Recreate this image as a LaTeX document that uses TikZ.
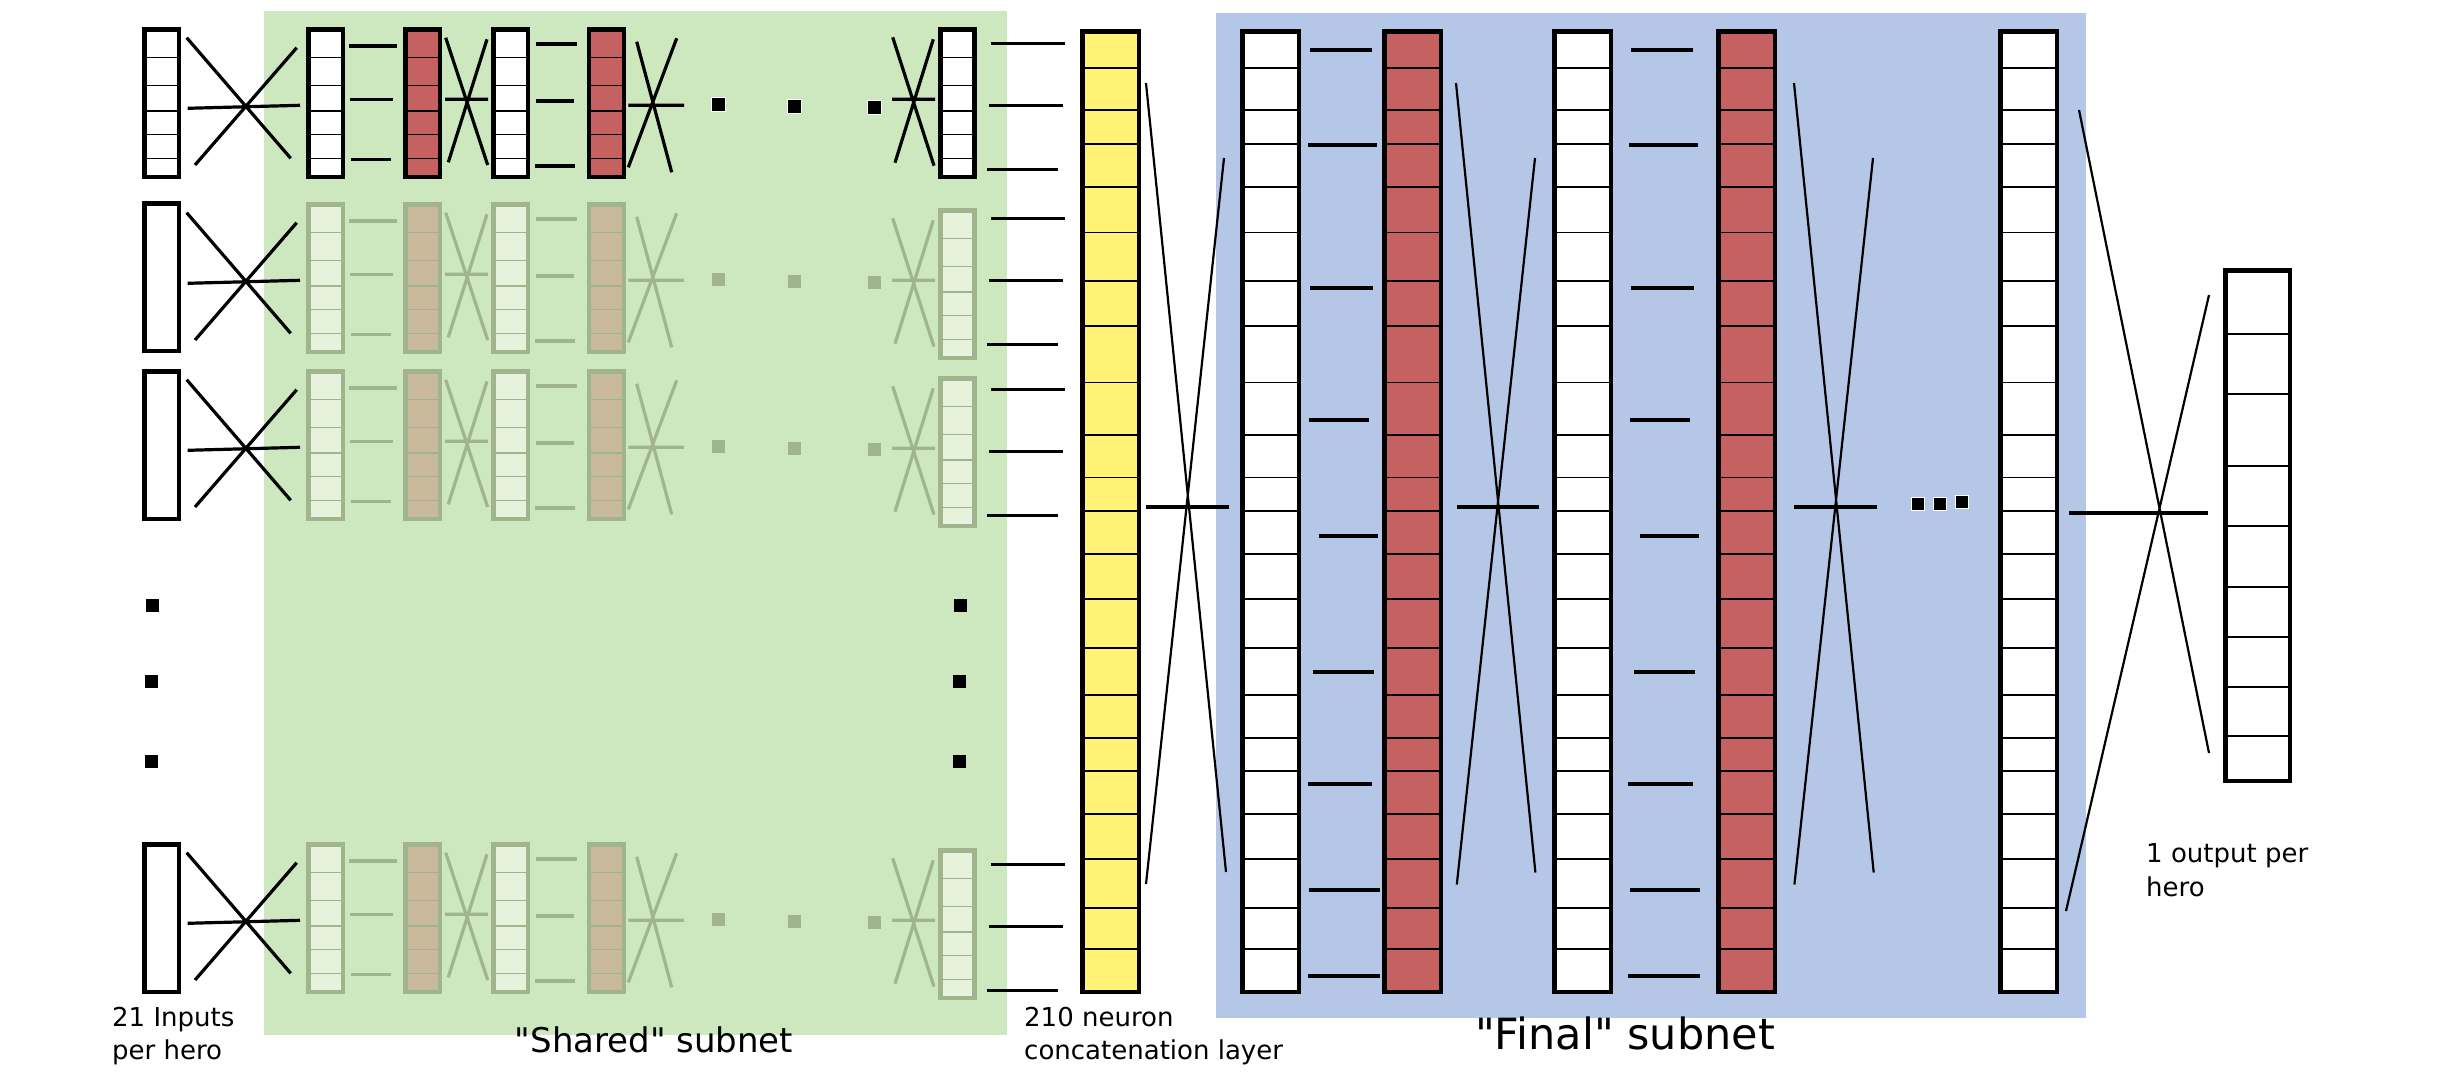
\documentclass[tikz,border=0pt]{standalone}
\usepackage{fontspec}
\setmainfont{DejaVu Sans}
\newfontfamily\plainq{DejaVu Sans}
\definecolor{greenbg}{HTML}{CDE7BF}
\definecolor{bluebg}{HTML}{B4C7E7}
\definecolor{redc}{HTML}{C56261}
\definecolor{yellowc}{HTML}{FFF275}
\definecolor{fadeline}{HTML}{A0B48E}
\definecolor{fadefill}{HTML}{E6F2DC}
\definecolor{fadered}{HTML}{C9BA9B}
\tikzset{
  boxline/.style={line width=4.5pt},
  cellline/.style={line width=1.3pt},
  linkline/.style={line width=3.2pt},
  thinlink/.style={line width=2.2pt},
  lbl/.style={inner sep=0pt, anchor=base west, font=\fontsize{26}{32}\selectfont},
  dotsq/.style={draw=white, line width=1pt},
}
\newcommand{\shbox}[5]{%
  \fill[#5] (#1,#3) rectangle (#2,#3+152);
  \foreach \o in {30.3,58.3,84,107.3,131.3}{\draw[cellline,#4] (#1+2,#3+\o) -- (#2-2,#3+\o);}
  \draw[boxline,#4] (#1+2.25,#3+2.25) rectangle (#2-2.25,#3+149.75);
}
\newcommand{\shrow}[5]{%
 \begin{scope}[shift={(0,#1)}]
   \draw[linkline,black] (186.7,37.7) -- (290.7,158.3) (195,165) -- (296.7,47.7) (187.7,108.3) -- (300,105.3);
   \shbox{306}{345}{27}{#3}{#4}
   \draw[linkline,#3] (349.3,46) -- (396.7,46) (350,99.3) -- (392.7,99.3) (351,159.3) -- (390.7,159.3);
   \shbox{403.3}{442.3}{27}{#3}{#5}
   \draw[linkline,#3] (445.7,37.7) -- (487.7,165) (487,39.3) -- (448.3,162.3) (445,99.3) -- (488,99.3);
   \shbox{491}{530}{27}{#3}{#4}
   \draw[linkline,#3] (536,44) -- (576.7,44) (536,101) -- (574,101) (535,166) -- (575,166);
   \shbox{586.7}{626}{27}{#3}{#5}
   \draw[linkline,#3] (636.7,41.7) -- (671.7,172.3) (676.7,38.3) -- (628.3,167.3) (628.3,105.3) -- (684,105.3);
   \foreach \px/\py in {718.3/104.3, 794.3/106.7, 874.3/107.3}{\fill[#3] (\px-6.5,\py-6.5) rectangle (\px+6.5,\py+6.5);}
 \end{scope}
 \begin{scope}[shift={(0,#2)}]
   \draw[linkline,#3] (892.7,37.3) -- (934,165.7) (933.3,39.3) -- (895,162.7) (892,99.3) -- (935,99.3);
   \shbox{938.3}{976.7}{27}{#3}{#4}
 \end{scope}
}
\newcommand{\tallcol}[3]{%
  \fill[#3] (#1,29) rectangle (#2,994);
  \foreach \o in {68,110,144,187,232.5,281,326,382.5,435,477.5,511,554,599,648,695,738,771,814,859,908,949}{\draw[cellline] (#1+2,\o) -- (#2-2,\o);}
  \draw[boxline] (#1+2.25,31.25) rectangle (#2-2.25,991.75);
}
\newcommand{\plainin}[1]{%
  \fill[white] (142,#1) rectangle (181,#1+152);
  \draw[boxline] (144.25,#1+2.25) rectangle (178.75,#1+149.75);
}
\begin{document}
\begin{tikzpicture}[x=1pt,y=-1pt]
\useasboundingbox (0,0) rectangle (2460,1080);
\fill[white] (0,0) rectangle (2460,1080);
% backgrounds
\fill[greenbg] (264,11) rectangle (1007,1035);
\fill[bluebg] (1216,12.5) rectangle (2086,1017.5);
% shared rows
\shbox{142}{181}{27}{black}{white}
\shrow{0}{0}{black}{white}{redc}
\plainin{201}
\shrow{175}{181}{fadeline}{fadefill}{fadered}
\plainin{369}
\shrow{342}{349}{fadeline}{fadefill}{fadered}
\plainin{842}
\shrow{815}{821}{fadeline}{fadefill}{fadered}
% row-1 dots outline
\foreach \px/\py in {718.3/104.3, 794.3/106.7, 874.3/107.3}{\draw[white,line width=1pt] (\px-7,\py-7) rectangle (\px+7,\py+7);}
% vertical dots
\foreach \px/\py in {152/605.7, 151.7/681.3, 151.7/761, 960/605.7, 959.3/681.3, 959.3/761}{\fill[black] (\px-6.5,\py-6.5) rectangle (\px+6.5,\py+6.5);}
% dashes into concatenation layer
\foreach \yy in {0,175,346,821}{
  \draw[linkline] (991,43.3+\yy) -- (1065,43.3+\yy) (989,105.3+\yy) -- (1062.7,105.3+\yy) (987,169.3+\yy) -- (1057.7,169.3+\yy);
}
% tall columns
\tallcol{1080}{1141}{yellowc}
\tallcol{1240}{1301}{white}
\tallcol{1382}{1443}{redc}
\tallcol{1552}{1613}{white}
\tallcol{1716}{1777}{redc}
\tallcol{1998}{2059}{white}
% final crosses
\draw[thinlink] (1146,83) -- (1226,872) (1224,158) -- (1146,884);
\draw[linkline] (1146,507) -- (1229,507);
\draw[thinlink] (1456,83) -- (1535.4,872.5) (1535,158) -- (1456.8,884.5);
\draw[linkline] (1457,507) -- (1539,507);
\draw[thinlink] (1794,83) -- (1873.7,872.5) (1873,158) -- (1794.4,884.5);
\draw[linkline] (1794,507) -- (1877,507);
\draw[thinlink] (2079,110) -- (2209,753) (2209,295) -- (2066,911);
\draw[linkline] (2069,513) -- (2208,513);
% final dashes
\draw[linkline] (1310,50) -- (1372,50) (1308,145) -- (1377,145) (1310,288) -- (1373,288)
  (1309,420) -- (1369,420) (1319,536) -- (1378,536) (1313,672) -- (1374,672)
  (1308,784) -- (1372,784) (1309,890) -- (1380,890) (1308,976) -- (1380,976);
\draw[linkline] (1631,50) -- (1693,50) (1629,145) -- (1698,145) (1631,288) -- (1694,288)
  (1630,420) -- (1690,420) (1640,536) -- (1699,536) (1634,672) -- (1695,672)
  (1628,784) -- (1693,784) (1630,890) -- (1700,890) (1628,976) -- (1700,976);
% final dots
\foreach \px/\py in {1918/504, 1940/504, 1962/502}{\filldraw[fill=black,dotsq] (\px-6.5,\py-6.5) rectangle (\px+6.5,\py+6.5);}
% output box
\fill[white] (2223,268) rectangle (2292,783);
\foreach \o in {334,394,466,526,587,637,687,736}{\draw[cellline] (2225,\o) -- (2290,\o);}
\draw[boxline] (2225.25,270.25) rectangle (2289.75,780.75);
% labels
\node[lbl] (inA) at (112,1026) {21 Inputs};
\node[lbl] (inB) at (112,1059) {per hero};
\node[lbl] (catA) at (1024,1026) {210 neuron};
\node[lbl] (catB) at (1024,1059) {concatenation layer};
\node[lbl] (outA) at (2146,862) {1 output per};
\node[lbl] (outB) at (2146,896) {hero};
\node[inner sep=0pt, anchor=base, font=\plainq\fontsize{34}{40}\selectfont] (shared) at (654,1052) {"Shared" subnet};
\node[inner sep=0pt, anchor=base, font=\plainq\fontsize{43}{50}\selectfont] (final) at (1625,1049) {"Final" subnet};
\end{tikzpicture}
\end{document}
